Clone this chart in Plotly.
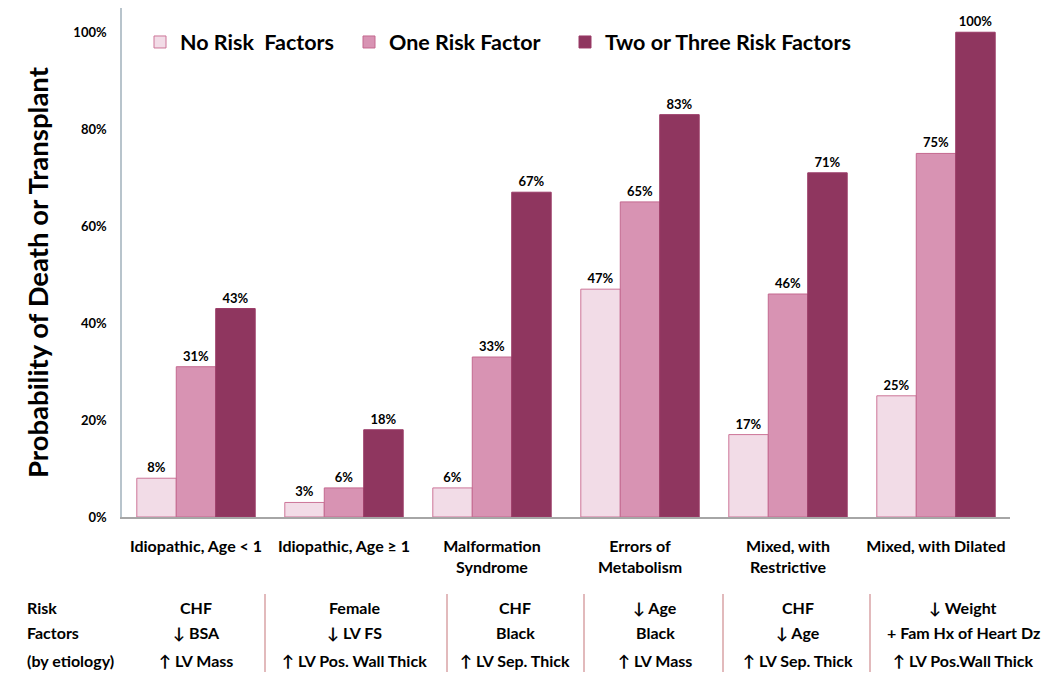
import plotly.graph_objects as go

categories = ["Idiopathic, Age < 1", "Idiopathic, Age ≥ 1", "Malformation<br>Syndrome",
              "Errors of<br>Metabolism", "Mixed, with<br>Restrictive", "Mixed, with Dilated"]
series_names = ["No Risk\u00a0\u00a0Factors", "One Risk Factor", "Two or Three Risk Factors"]
no_risk = [0.08, 0.03, 0.06, 0.47, 0.17, 0.25]
one_risk = [0.31, 0.06, 0.33, 0.65, 0.46, 0.75]
two_three = [0.43, 0.18, 0.67, 0.83, 0.71, 1.00]
y_ticks = [0, 0.2, 0.4, 0.6, 0.8, 1.0]
y_tick_labels = ["0%", "20%", "40%", "60%", "80%", "100%"]

row_headers = ["Risk", "Factors", "(by etiology)"]
risk_factors = [
    ["CHF", "↓ BSA", "↑ LV Mass"],
    ["Female", "↓ LV FS", "↑ LV Pos. Wall Thick"],
    ["CHF", "Black", "↑ LV Sep. Thick"],
    ["↓ Age", "Black", "↑ LV Mass"],
    ["CHF", "↓ Age", "↑ LV Sep. Thick"],
    ["↓ Weight", "+ Fam Hx of Heart Dz", "↑ LV Pos.Wall Thick"],
]

fills = ["#f2dce7", "#d893b3", "#8f365f"]
outlines = ["#cc7598", "#c4688f", "#9a3a66"]

# page is offset by the 8px body margin
OFF = 8
W, H = 1050 - OFF, 691 - OFF
ML, MR, MT, MB = 122 - OFF, 40, 0, 174
PW, PH = W - ML - MR, H - MT - MB
def px(x):  # page pixel -> paper
    return (x - OFF - ML) / PW
def py(y):
    return (H - MB - (y - OFF)) / PH

FONT = "Lato, 'Open Sans', sans-serif"

legend_ids = ["legend", "legend2", "legend3"]
legend_x = [140, 349, 565]

fig = go.Figure()
for name, vals, fc, lc, lid in zip(series_names, [no_risk, one_risk, two_three], fills, outlines, legend_ids):
    fig.add_trace(go.Bar(
        x=categories, y=vals, name=name, legend=lid,
        marker=dict(color=fc, line=dict(color=lc, width=1)),
        texttemplate="%{y:.0%}", textposition="outside", cliponaxis=False,
        textfont=dict(size=13, color="black", family=FONT, weight="bold"),
    ))

annotations = []
annotations.append(dict(text="Probability of Death or Transplant", x=px(37), y=py(272),
                        xref="paper", yref="paper", textangle=-90, showarrow=False,
                        xanchor="center", yanchor="middle",
                        font=dict(size=27.5, color="black", family=FONT, weight="bold")))
row_y = [607, 633, 660]
for txt, yy in zip(row_headers, row_y):
    annotations.append(dict(text=txt, x=px(25), y=py(yy), xref="paper", yref="paper",
                            xanchor="left", yanchor="middle", showarrow=False,
                            font=dict(size=16, color="black", family=FONT, weight="bold")))
col_x = [196, 354, 515, 655, 798, 963]
for cx, rows in zip(col_x, risk_factors):
    for txt, yy in zip(rows, row_y):
        annotations.append(dict(text=txt, x=px(cx), y=py(yy), xref="paper", yref="paper",
                                xanchor="center", yanchor="middle", showarrow=False,
                                font=dict(size=16, color="black", family=FONT, weight="bold")))
shapes = []
for sx in [265, 447, 584, 723, 870]:
    shapes.append(dict(type="line", xref="paper", yref="paper", x0=px(sx), x1=px(sx),
                       y0=py(594), y1=py(672), line=dict(color="#d9a3a6", width=1.5)))

leg_common = dict(orientation="h", xanchor="left", yanchor="middle",
                  font=dict(size=21.5, color="black", family=FONT, weight="bold"),
                  itemwidth=30, bgcolor="rgba(0,0,0,0)")

fig.update_layout(
    width=W, height=H,
    margin=dict(l=ML, r=MR, t=MT, b=MB, autoexpand=False),
    paper_bgcolor="white", plot_bgcolor="white",
    barmode="group", bargap=0.2, bargroupgap=0,
    font=dict(family=FONT, color="black", weight="bold"),
    showlegend=True,
    legend=dict(x=px(legend_x[0]), y=py(42), **leg_common),
    legend2=dict(x=px(legend_x[1]), y=py(42), **leg_common),
    legend3=dict(x=px(legend_x[2]), y=py(42), **leg_common),
    xaxis=dict(showline=True, linecolor="#a6a6a6", linewidth=1.5, ticks="", showgrid=False,
               tickfont=dict(size=16, color="black", family=FONT, weight="bold"),
               ticklabelstandoff=14),
    yaxis=dict(range=[0, 1.05], tickvals=y_ticks, ticktext=y_tick_labels, showline=True,
               linecolor="#b8c4cc", linewidth=1.5, ticks="", showgrid=False, zeroline=False,
               tickfont=dict(size=13, color="black", family=FONT, weight="bold"),
               ticklabelstandoff=11),
    annotations=annotations, shapes=shapes,
)

fig.write_html("out.html")
